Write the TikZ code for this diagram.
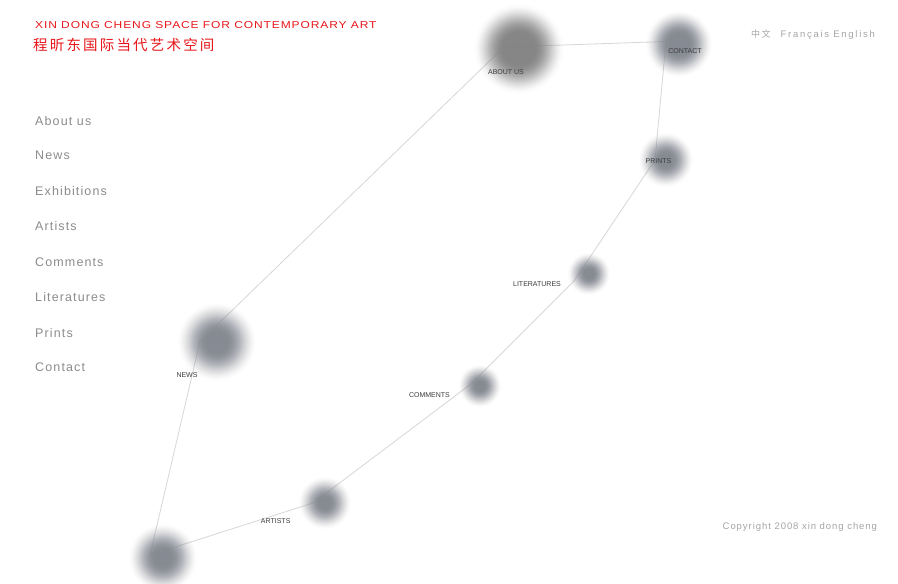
\documentclass[tikz,border=0pt]{standalone}
\usepackage{fontspec}
\setmainfont{Liberation Sans}
\newfontfamily\menufont[LetterSpace=9]{Liberation Sans}
\newfontfamily\headfont[LetterSpace=9,FakeStretch=1.2]{Liberation Sans}
\newfontfamily\cjkfont[LetterSpace=15]{Noto Sans CJK SC}
\newfontfamily\cjksmall[LetterSpace=16]{Noto Sans CJK SC}
\newfontfamily\langfont[LetterSpace=18]{Liberation Sans}
\newfontfamily\copyfont[LetterSpace=10]{Liberation Sans}
\definecolor{headred}{RGB}{232,22,26}
\definecolor{menugray}{RGB}{140,140,140}
\definecolor{lightgray}{RGB}{165,165,165}
\definecolor{labelgray}{RGB}{60,60,60}
\definecolor{linegray}{RGB}{215,215,215}
\definecolor{blobA}{RGB}{128,128,128}
\definecolor{blobB}{RGB}{134,138,146}
% x, y, core radius, outer radius, colour, peak opacity
\newcommand\drawblob[6]{%
  \foreach \k in {1,...,36}{%
    \pgfmathsetmacro\tt{\k/36}%
    \pgfmathsetmacro\tp{(\k-1)/36}%
    \pgfmathsetmacro\rr{#4-(#4-#3)*\tt}%
    \pgfmathsetmacro\Ok{#6*\tt*\tt*(3-2*\tt)}%
    \pgfmathsetmacro\Op{#6*\tp*\tp*(3-2*\tp)}%
    \pgfmathsetmacro\al{(\Ok-\Op)/(1-\Op)}%
    \fill[#5,fill opacity=\al] (#1,#2) circle[radius=\rr pt];
  }}
\tikzset{
  menu/.style={anchor=base west,inner sep=0pt,text=menugray,font=\menufont\fontsize{12.5}{14}\selectfont},
  lbl/.style={anchor=base,inner sep=0pt,text=labelgray,font=\fontsize{7}{8}\selectfont},
  conn/.style={draw=linegray,line width=0.8pt}
}
\begin{document}
\begin{tikzpicture}[x=1pt,y=-1pt]
\useasboundingbox[fill=white] (0,0) rectangle (898,584);
% connector anchors
\coordinate (pA) at (504,47);
\coordinate (pC) at (666,41.5);
\coordinate (pP) at (655,160);
\coordinate (pL) at (574,281);
\coordinate (pM) at (471,384);
\coordinate (pR) at (313,503);
\coordinate (pB) at (150,555);
\coordinate (pN) at (200,341.5);
\draw[conn] (pA) -- (pC);
\draw[conn] (pC) -- (pP);
\draw[conn] (pP) -- (pL);
\draw[conn] (pL) -- (pM);
\draw[conn] (pM) -- (pR);
\draw[conn] (pR) -- (pB);
\draw[conn] (pB) -- (pN);
\draw[conn] (pN) -- (pA);
% blobs
\drawblob{519}{49}{16}{46}{blobA}{0.9}
\drawblob{679}{44}{10}{34}{blobB}{0.97}
\drawblob{666}{160}{6}{28}{blobB}{0.97}
\drawblob{589}{274}{4}{22}{blobB}{0.97}
\drawblob{480}{386}{4}{22}{blobB}{0.97}
\drawblob{325}{503}{5}{27}{blobB}{0.97}
\drawblob{163}{558}{8}{35}{blobB}{0.97}
\drawblob{217}{342}{10}{40}{blobB}{0.97}
% labels
\node[lbl] (lA) at (506,74) {ABOUT US};
\node[lbl] (lC) at (685,53) {CONTACT};
\node[lbl] (lP) at (658.5,163) {PRINTS};
\node[lbl] (lL) at (537,286) {LITERATURES};
\node[lbl] (lM) at (429.5,397) {COMMENTS};
\node[lbl] (lR) at (275.7,523) {ARTISTS};
\node[lbl] (lN) at (187,377) {NEWS};
% header
\node[anchor=base west,inner sep=0pt,text=headred,font=\headfont\fontsize{10}{12}\selectfont] (h1) at (35,28) {XIN DONG CHENG SPACE FOR CONTEMPORARY ART};
\node[anchor=base west,inner sep=0pt,text=headred,font=\cjkfont\fontsize{14.5}{16}\selectfont] (h2) at (33,50.5) {程昕东国际当代艺术空间};
% languages
\node[anchor=base west,inner sep=0pt,text=lightgray,font=\cjksmall\fontsize{9}{11}\selectfont] (lz) at (751,37) {中文};
\node[anchor=base west,inner sep=0pt,text=lightgray,font=\langfont\fontsize{9.5}{11}\selectfont] (le) at (780.5,37) {Français English};
% menu
\node[menu] (m1) at (35,125) {About us};
\node[menu] (m2) at (35,159) {News};
\node[menu] (m3) at (35,195) {Exhibitions};
\node[menu] (m4) at (35,230) {Artists};
\node[menu] (m5) at (35,266) {Comments};
\node[menu] (m6) at (35,301) {Literatures};
\node[menu] (m7) at (35,337) {Prints};
\node[menu] (m8) at (35,371) {Contact};
% copyright
\node[anchor=base west,inner sep=0pt,text=lightgray,font=\copyfont\fontsize{9.5}{11}\selectfont] (cp) at (722.5,529) {Copyright 2008 xin dong cheng};
\end{tikzpicture}
\end{document}
